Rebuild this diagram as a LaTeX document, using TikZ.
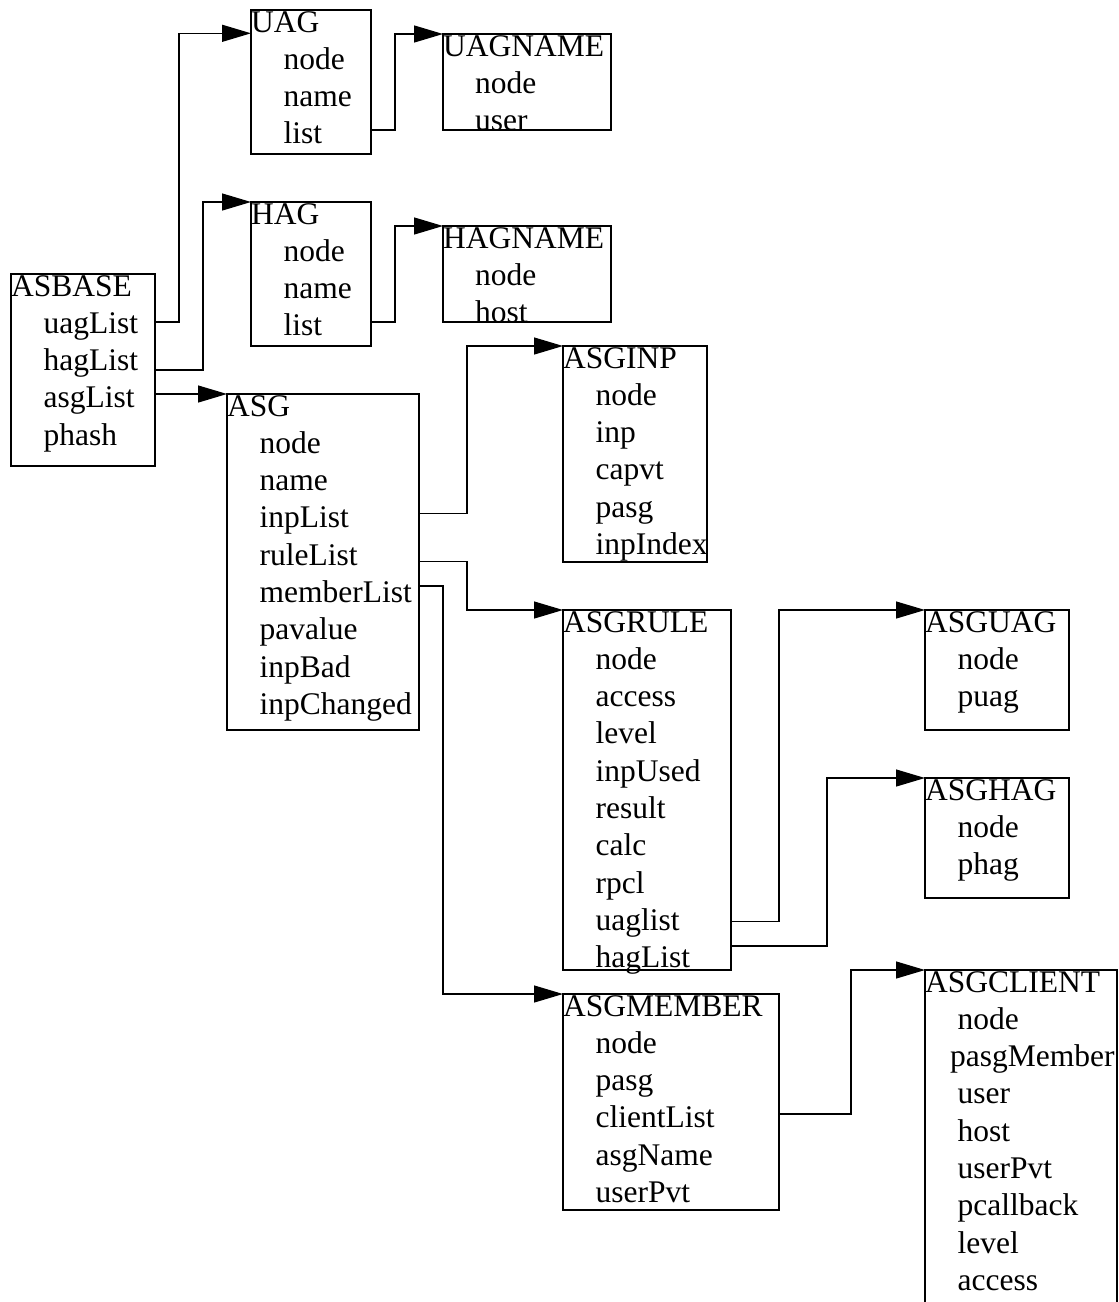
\documentclass[tikz,border=0pt]{standalone}
\usepackage{fontspec}
\setmainfont{Liberation Serif}
\usetikzlibrary{arrows.meta,calc}
\tikzset{
  box/.style={draw, line width=1.3pt, inner sep=0pt, outer sep=0pt, anchor=north west},
  ttl/.style={anchor=base west, inner sep=0pt},
  fld/.style={anchor=base west, inner sep=0pt},
  conn/.style={line width=1.3pt, -{Triangle[length=29pt,width=17pt]}}
}
\newcommand\mkbox[6]{% name, x, y, w, h, title
  \node[box, minimum width=#4pt, minimum height=#5pt] (#1) at (#2,#3) {};
  \node[ttl] (#1-t) at ($(#1.north west)+(0,22)$) {#6};
}
\newcommand\mkfields[3]{% name, indent, list
  \foreach \f [count=\i] in {#3} {
    \node[fld] (#1-\i) at ($(#1.north west)+(#2,22+37.3*\i)$) {\f};
  }
}
\begin{document}
\begin{tikzpicture}[x=1pt,y=-1pt,font=\fontsize{31.5}{37}\selectfont]
\useasboundingbox (0,0) rectangle (1119,1302);
\mkbox{asbase}{11}{274}{144}{192}{ASBASE}
\mkfields{asbase}{32.5}{uagList,hagList,asgList,phash}
\mkbox{uag}{251}{10}{120}{144}{UAG}
\mkfields{uag}{32.5}{node,name,list}
\mkbox{uagname}{443}{34}{168}{96}{UAGNAME}
\mkfields{uagname}{32}{node,user}
\mkbox{hag}{251}{202}{120}{144}{HAG}
\mkfields{hag}{32.5}{node,name,list}
\mkbox{hagname}{443}{226}{168}{96}{HAGNAME}
\mkfields{hagname}{32}{node,host}
\mkbox{asg}{227}{394}{192}{336}{ASG}
\mkfields{asg}{32.5}{node,name,inpList,ruleList,memberList,pavalue,inpBad,inpChanged}
\mkbox{asginp}{563}{346}{144}{216}{ASGINP}
\mkfields{asginp}{32.5}{node,inp,capvt,pasg,inpIndex}
\mkbox{asgrule}{563}{610}{168}{360}{ASGRULE}
\mkfields{asgrule}{32.5}{node,access,level,inpUsed,result,calc,rpcl,uaglist,hagList}
\mkbox{asguag}{925}{610}{144}{120}{ASGUAG}
\mkfields{asguag}{32.5}{node,puag}
\mkbox{asghag}{925}{778}{144}{120}{ASGHAG}
\mkfields{asghag}{32.5}{node,phag}
\mkbox{asgmember}{563}{994}{216}{216}{ASGMEMBER}
\mkfields{asgmember}{32.5}{node,pasg,clientList,asgName,userPvt}
\mkbox{asgclient}{925}{970}{192}{334}{ASGCLIENT}
\mkfields{asgclient}{32.5}{node}
\node[fld] (asgclient-2) at ($(asgclient.north west)+(25,22+37.3*2)$) {pasgMember};
\foreach \f [count=\i from 3] in {user,host,userPvt,pcallback,level,access} {
  \node[fld] (asgclient-\i) at ($(asgclient.north west)+(32.5,22+37.3*\i)$) {\f};
}
% connectors
\draw[conn] ([yshift=-48pt]asbase.north east) -- ++(24,0) |- ([yshift=-23.3pt]uag.north west);
\draw[conn] ([yshift=-96pt]asbase.north east) -- ++(48,0) |- (hag.north west);
\draw[conn] (asbase.east |- asg.north west) -- (asg.north west);
\draw[conn] ([yshift=-120pt]uag.north east) -- ++(24,0) |- (uagname.north west);
\draw[conn] ([yshift=-120pt]hag.north east) -- ++(24,0) |- (hagname.north west);
\draw[conn] ([yshift=-119.3pt]asg.north east) -- ++(48,0) |- (asginp.north west);
\draw[conn] ([yshift=-167.7pt]asg.north east) -- ++(48,0) |- (asgrule.north west);
\draw[conn] ([yshift=-192pt]asg.north east) -- ++(24,0) |- (asgmember.north west);
\draw[conn] ([yshift=-311.7pt]asgrule.north east) -- ++(48,0) |- (asguag.north west);
\draw[conn] ([yshift=-336pt]asgrule.north east) -- ++(96,0) |- (asghag.north west);
\draw[conn] ([yshift=-120pt]asgmember.north east) -- ++(72,0) |- (asgclient.north west);
\end{tikzpicture}
\end{document}
